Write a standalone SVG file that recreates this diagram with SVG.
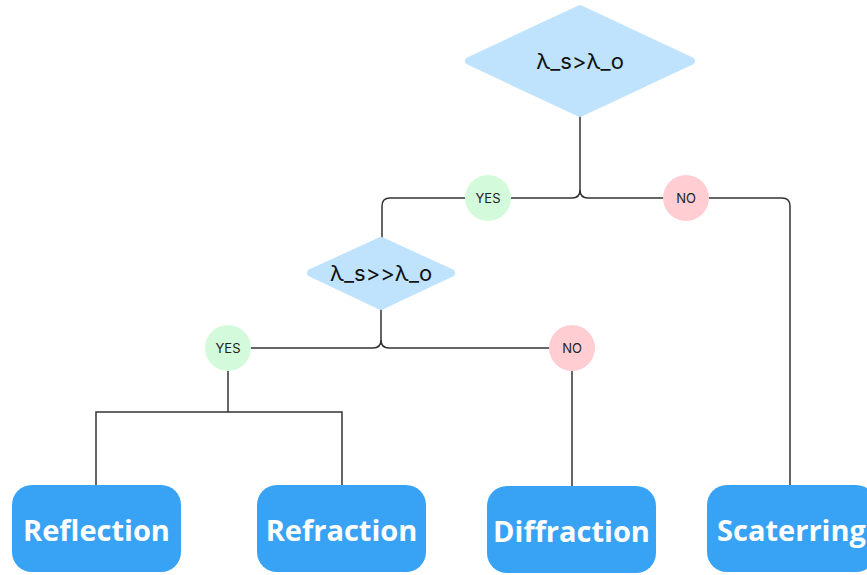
<svg xmlns="http://www.w3.org/2000/svg" width="867" height="575" viewBox="0 0 867 575">
<style>
.line{fill:none;stroke:#333;stroke-width:1.5}
.dia{fill:#BFE3FD;stroke:#BFE3FD;stroke-width:8;stroke-linejoin:round}
.dtext{font-family:Inter,"Noto Sans",sans-serif;font-size:22px;fill:#111;text-anchor:middle;dominant-baseline:central}
.yes{fill:#D4FADC}
.no{fill:#FFCDD2}
.ctext{font-family:Inter,"Noto Sans",sans-serif;font-size:13px;fill:#222;text-anchor:middle;dominant-baseline:central}
.box{fill:#38A3F5}
.btext{font-family:"Open Sans","Noto Sans",sans-serif;font-weight:bold;font-size:29px;fill:#fff;text-anchor:middle;dominant-baseline:central}
</style>
<rect width="867" height="575" fill="#fff"/>
<g id="connectors">
<path class="line" d="M580,110 V190 Q580,198 572,198 H390 Q382,198 382,206 V240"/>
<path class="line" d="M580,190 Q580,198 588,198 H782 Q790,198 790,206 V486"/>
<path class="line" d="M381,305 V340 Q381,348 373,348 H228"/>
<path class="line" d="M381,340 Q381,348 389,348 H572"/>
<path class="line" d="M228,348 V412"/>
<path class="line" d="M96,486 V412 H342 V486"/>
<path class="line" d="M572,348 V487"/>
</g>
<g id="d1">
<polygon class="dia" points="580,9 691,61 580,113 469,61"/>
<text class="dtext" x="580" y="61">λ_s&gt;λ_o</text>
</g>
<g id="yes1">
<circle class="yes" cx="488" cy="198" r="23"/>
<text class="ctext" x="488" y="198">YES</text>
</g>
<g id="no1">
<circle class="no" cx="686" cy="198" r="23"/>
<text class="ctext" x="686" y="198">NO</text>
</g>
<g id="d2">
<polygon class="dia" points="381,241 451,273 381,306 311,273"/>
<text class="dtext" x="381" y="273">λ_s&gt;&gt;λ_o</text>
</g>
<g id="yes2">
<circle class="yes" cx="228" cy="348" r="23"/>
<text class="ctext" x="228" y="348">YES</text>
</g>
<g id="no2">
<circle class="no" cx="572" cy="348" r="23"/>
<text class="ctext" x="572" y="348">NO</text>
</g>
<g id="reflection">
<rect class="box" x="12" y="485" width="169" height="87" rx="20"/>
<text class="btext" x="96.5" y="529">Reflection</text>
</g>
<g id="refraction">
<rect class="box" x="257" y="485" width="169" height="87" rx="20"/>
<text class="btext" x="341.5" y="529">Refraction</text>
</g>
<g id="diffraction">
<rect class="box" x="487" y="486" width="169" height="87" rx="20"/>
<text class="btext" x="571.5" y="530">Diffraction</text>
</g>
<g id="scaterring">
<rect class="box" x="707" y="485" width="169" height="87" rx="20"/>
<text class="btext" x="791.5" y="529">Scaterring</text>
</g>
</svg>
